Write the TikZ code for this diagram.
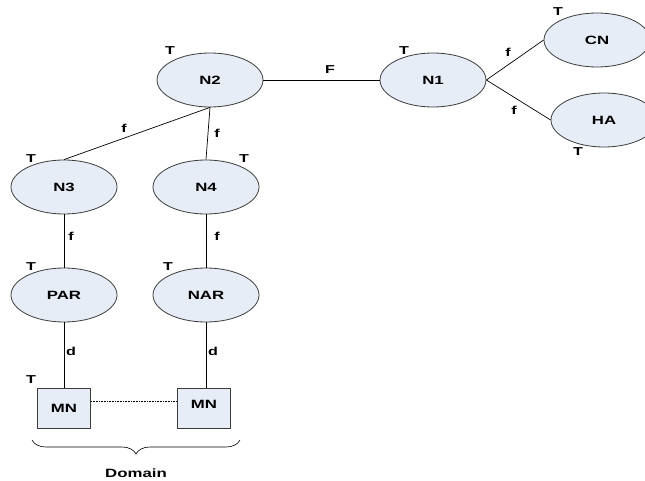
\documentclass[tikz,border=0pt]{standalone}
\usepackage{fontspec}
\setmainfont{Liberation Sans}
\newfontfamily\widefont[FakeStretch=1.4]{Liberation Sans}
\usepackage{tikz}
\usetikzlibrary{shapes.geometric,decorations.pathreplacing}
\definecolor{nodefill}{RGB}{231,237,247}
\definecolor{nodeline}{RGB}{60,60,60}

\begin{document}
\begin{tikzpicture}[x=1pt,y=-1pt,
  ent/.style={ellipse,draw=nodeline,fill=nodefill,line width=0.8pt,minimum width=106pt,minimum height=54pt,inner sep=0pt,font=\widefont\bfseries\fontsize{12}{14}\selectfont},
  mnbox/.style={rectangle,draw=nodeline,fill=nodefill,line width=0.8pt,minimum width=53pt,minimum height=40pt,inner sep=0pt,font=\widefont\bfseries\fontsize{12}{14}\selectfont},
  tag/.style={font=\widefont\bfseries\fontsize{11.5}{13}\selectfont,inner sep=0pt},
  link/.style={line width=0.7pt}]
\useasboundingbox (0,0) rectangle (645,481);
% Draw the entities
\node[ent] (N2) at (210,80) {N2};
\node[ent] (N1) at (433,80) {N1};
\node[ent] (CN) at (597,40) {CN};
\node[ent] (HA) at (604,120) {HA};
\node[ent] (N3) at (64,187) {N3};
\node[ent] (N4) at (206,187) {N4};
\node[ent] (PAR) at (64,295) {PAR};
\node[ent] (NAR) at (206,295) {NAR};
\node[mnbox] (MN1) at (64,408) {MN};
\node[mnbox] (MN2) at (204,408) {\raisebox{8pt}{MN}};
% Tags
\node[tag] (tN2) at (170,51) {T};
\node[tag] (tN1) at (404,51) {T};
\node[tag] (tCN) at (558,12) {T};
\node[tag] (tHA) at (578,152) {T};
\node[tag] (tN3) at (31,159) {T};
\node[tag] (tN4) at (244,159) {T};
\node[tag] (tPAR) at (31,267) {T};
\node[tag] (tNAR) at (168,267) {T};
\node[tag] (tMN) at (31,380) {T};
% Links
\draw[link] (N2.east) -- (N1.west)
node[tag] at (330,70) {F};
\draw[link] (N1.east) -- (CN.west)
node[tag] at (508,52) {f};
\draw[link] (N1.east) -- (HA.west)
node[tag] at (514,110) {f};
\draw[link] (N2.south) -- (N3.north)
node[tag] at (124,128) {f};
\draw[link] (N2.south) -- (N4.north)
node[tag] at (217,133) {f};
\draw[link] (N3.south) -- (PAR.north)
node[tag] at (71,236) {f};
\draw[link] (N4.south) -- (NAR.north)
node[tag] at (217,236) {f};
\draw[link] (PAR.south) -- (MN1.north)
node[tag] at (71,351) {d};
\draw[link] (NAR.south) -- (NAR.south |- MN2.north)
node[tag] at (213,351) {d};
% Domain
\draw[densely dotted,line width=0.6pt] ([yshift=6.5pt]MN1.east) -- ([yshift=6.5pt]MN2.west);
\draw[decorate,decoration={brace,mirror,amplitude=14pt},line width=0.6pt] (32,440) -- (240,440);
\node[tag,font=\widefont\bfseries\fontsize{12}{14}\selectfont] (dom) at (136,473) {Domain};
\end{tikzpicture}
\end{document}
